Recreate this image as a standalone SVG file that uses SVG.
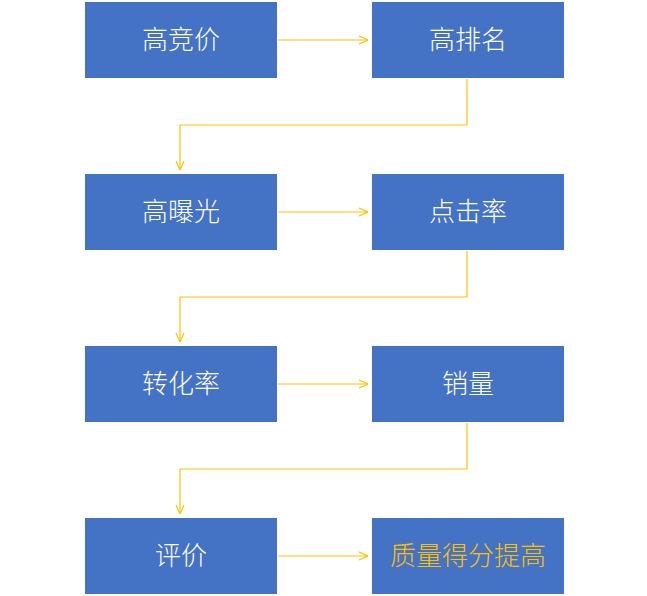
<svg xmlns="http://www.w3.org/2000/svg" width="647" height="596" viewBox="0 0 647 596">
<defs>
<marker id="ah" viewBox="0 0 10 10" refX="10" refY="5" markerWidth="10" markerHeight="10" markerUnits="userSpaceOnUse" orient="auto">
<path d="M1,1 L10,5 L1,9" fill="none" stroke="#FFC000" stroke-width="1.2"/>
</marker>
</defs>
<style>
.box{fill:#4472C4}
.t{fill:#FFFFFF;font-family:"Noto Sans CJK SC","Noto Sans",sans-serif;font-size:26px;font-weight:300;text-anchor:middle}
.g{fill:#FFC000}
.c{fill:none;stroke:#FFC000;stroke-width:1.2;marker-end:url(#ah)}
</style>
<rect width="647" height="596" fill="#FFFFFF"/>
<g id="connectors">
<path class="c" d="M278,40 H368"/>
<path class="c" d="M467,79 V125 H180 V170"/>
<path class="c" d="M278,212 H368"/>
<path class="c" d="M467,251 V297 H180 V342"/>
<path class="c" d="M278,384 H368"/>
<path class="c" d="M467,423 V469 H180 V514"/>
<path class="c" d="M278,556 H368"/>
</g>
<g id="n1"><rect class="box" x="85" y="2" width="192" height="76"/><text class="t" x="181" y="49">高竞价</text></g>
<g id="n2"><rect class="box" x="372" y="2" width="192" height="76"/><text class="t" x="468" y="49">高排名</text></g>
<g id="n3"><rect class="box" x="85" y="174" width="192" height="76"/><text class="t" x="181" y="221">高曝光</text></g>
<g id="n4"><rect class="box" x="372" y="174" width="192" height="76"/><text class="t" x="468" y="221">点击率</text></g>
<g id="n5"><rect class="box" x="85" y="346" width="192" height="76"/><text class="t" x="181" y="393">转化率</text></g>
<g id="n6"><rect class="box" x="372" y="346" width="192" height="76"/><text class="t" x="468" y="393">销量</text></g>
<g id="n7"><rect class="box" x="85" y="518" width="192" height="76"/><text class="t" x="181" y="565">评价</text></g>
<g id="n8"><rect class="box" x="372" y="518" width="192" height="76"/><text class="t g" x="468" y="565">质量得分提高</text></g>
</svg>
